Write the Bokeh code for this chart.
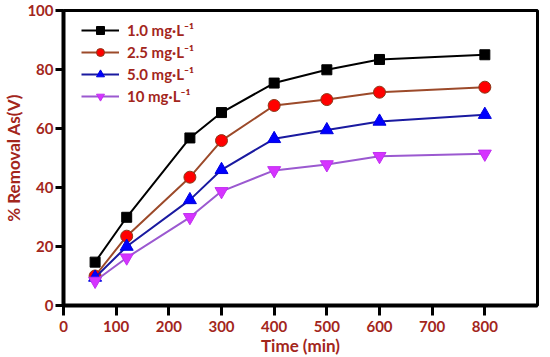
from bokeh.plotting import figure
from bokeh.embed import file_html
from bokeh.resources import INLINE
from bokeh.models import Range1d, FixedTicker, Legend

time_min = [60, 120, 240, 300, 400, 500, 600, 800]
c_1_0 = [14.7, 29.9, 56.8, 65.4, 75.4, 79.9, 83.4, 85.0]
c_2_5 = [10.0, 23.5, 43.5, 55.9, 67.8, 69.8, 72.3, 74.0]
c_5_0 = [9.5, 20.0, 35.8, 46.0, 56.5, 59.5, 62.4, 64.7]
c_10 = [8.3, 16.2, 29.9, 38.7, 45.8, 47.8, 50.6, 51.4]

labels = ["1.0 mg\u2219L\u207b\u00b9", "2.5 mg\u2219L\u207b\u00b9", "5.0 mg\u2219L\u207b\u00b9", "10 mg\u2219L\u207b\u00b9"]
x_ticks = [0, 100, 200, 300, 400, 500, 600, 700, 800]
y_ticks = [0, 20, 40, 60, 80, 100]

FONT = "Lato"
TXT = "#A3261C"

p = figure(frame_width=474, frame_height=295, output_backend="svg", toolbar_location=None,
           x_range=Range1d(0, 900), y_range=Range1d(0, 100),
           min_border_left=62, min_border_right=14, min_border_top=10, min_border_bottom=52)
p.grid.visible = False
p.outline_line_color = "black"
p.outline_line_width = 3

for ax in (p.xaxis[0], p.yaxis[0]):
    ax.axis_line_width = 4
    ax.axis_line_color = "black"
    ax.major_tick_line_width = 3
    ax.major_tick_line_color = "black"
    ax.major_tick_in = 0
    ax.minor_tick_line_color = None
    ax.major_label_text_font = FONT
    ax.major_label_text_font_style = "bold"
    ax.major_label_text_font_size = "15px"
    ax.major_label_text_color = TXT
    ax.axis_label_text_font = FONT
    ax.axis_label_text_font_style = "bold"
    ax.axis_label_text_font_size = "17px"
    ax.axis_label_text_color = TXT

p.xaxis.major_tick_out = 10
p.yaxis.major_tick_out = 8
p.xaxis.major_label_standoff = 5
p.yaxis.major_label_standoff = 2
p.xaxis.ticker = FixedTicker(ticks=x_ticks)
p.yaxis.ticker = FixedTicker(ticks=y_ticks)
p.xaxis.axis_label = "Time (min)"
p.yaxis.axis_label = "% Removal As(V)"
p.xaxis.axis_label_standoff = 0
p.yaxis.axis_label_standoff = 0

series = [
    (c_1_0, "square", "black", "black", "black", 10),
    (c_2_5, "circle", "#FF0000", "#8B3A1A", "#9C4A2A", 12),
    (c_5_0, "triangle", "#0000FF", "#0000DD", "#1A1AA0", 13),
    (c_10, "inverted_triangle", "#D633FF", "#C030F0", "#9B59D0", 13),
]

items = []
for (vals, mk, fill, edge, lc, sz), lab in zip(series, labels):
    r1 = p.line(time_min, vals, line_color=lc, line_width=2)
    r2 = p.scatter(time_min, vals, marker=mk, size=sz, fill_color=fill, line_color=edge, line_width=1)
    items.append((lab, [r1, r2]))

leg = Legend(items=items, location=(18, 199))
leg.background_fill_alpha = 0
leg.border_line_color = None
leg.padding = 0
leg.margin = 0
leg.spacing = 2
leg.glyph_width = 38
leg.glyph_height = 20
leg.label_height = 20
leg.label_standoff = 8
leg.label_text_font = FONT
leg.label_text_font_style = "bold"
leg.label_text_font_size = "15px"
leg.label_text_color = TXT
p.add_layout(leg, "center")

open("out.html", "w").write(file_html(p, INLINE))
